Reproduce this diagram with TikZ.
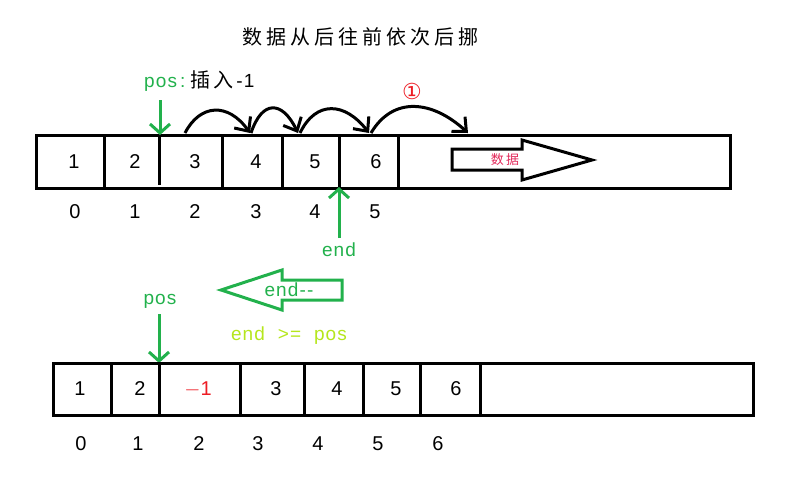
\documentclass[tikz,border=0pt]{standalone}
\usepackage{fontspec}
\setmainfont{Liberation Sans}
\newfontfamily\spaced[LetterSpace=6]{Liberation Sans}
\newfontfamily\cjk{Noto Sans CJK SC}
\newfontfamily\cjkwide[LetterSpace=20]{Noto Sans CJK SC}
\newfontfamily\dejavu{DejaVu Sans}
\usetikzlibrary{arrows.meta}
\definecolor{pgreen}{RGB}{34,177,76}
\definecolor{plime}{RGB}{181,230,29}
\definecolor{pred}{RGB}{237,28,36}
\definecolor{ppink}{RGB}{226,40,90}
\tikzset{
  box/.style={line width=3pt, draw=black},
  num/.style={font=\fontsize{20}{20}\selectfont, inner sep=0pt},
  idx/.style={font=\fontsize{20}{20}\selectfont, inner sep=0pt},
  garrow/.style={draw=pgreen, line width=3pt, -{Straight Barb[length=9pt,width=20pt]}},
  barc/.style={draw=black, line width=3pt, -{Straight Barb[length=11pt,width=20pt]}},
  gtext/.style={text=pgreen, font=\spaced\fontsize{19}{19}\selectfont, inner sep=0pt},
}
\begin{document}
\begin{tikzpicture}[x=1pt,y=-1pt]
\useasboundingbox (0,0) rectangle (789,485);

% title
\node[inner sep=0pt, font=\cjkwide\fontsize{20}{20}\selectfont] (title) at (360,37) {数据从后往前依次后挪};

% ---------- top array ----------
\draw[box] (36,135) rectangle (730,188);
\draw[box] (104,135) -- (104,188);
\draw[box] (159,135) -- (159,185);
\draw[box] (222,135) -- (222,188);
\draw[box] (282,135) -- (282,188);
\draw[box] (339,135) -- (339,188);
\draw[box] (398,135) -- (398,188);

\node[num] (t1) at (74,162) {1};
\node[num] (t2) at (135,162) {2};
\node[num] (t3) at (195,162) {3};
\node[num] (t4) at (256,162) {4};
\node[num] (t5) at (315,162) {5};
\node[num] (t6) at (376,162) {6};

\node[idx] (ti0) at (75,212) {0};
\node[idx] (ti1) at (135,212) {1};
\node[idx] (ti2) at (195,212) {2};
\node[idx] (ti3) at (256,212) {3};
\node[idx] (ti4) at (315,212) {4};
\node[idx] (ti5) at (375,212) {5};

% hollow arrow with 数据
\draw[box] (452,149) -- (522,149) -- (522,140) -- (592,160) -- (522,180) -- (522,170) -- (452,170) -- cycle;
\node[inner sep=0pt, text=ppink, font=\cjk\fontsize{13}{13}\selectfont] (data) at (505,160) {数\,据};

% pos label & arrow
\node[inner sep=0pt, anchor=west, font=\spaced\fontsize{19}{19}\selectfont] (poslbl) at (144,81) {\textcolor{pgreen}{pos\hspace{3pt}:}\hspace{5pt}{\cjk\fontsize{20}{20}\selectfont 插\hspace{3pt}入}\hspace{3pt}-1};
\coordinate (posTop) at (160,100);
\coordinate (posBot) at (160,135);
\draw[garrow] (posTop) -- (posBot);

% arcs
\coordinate (a0) at (185,133);
\coordinate (a1) at (250,133);
\coordinate (a1b) at (251,133);
\coordinate (a2) at (298,133);
\coordinate (a2b) at (300,133);
\coordinate (a3) at (369,133);
\coordinate (a3b) at (371,133);
\coordinate (a4) at (468,133);
\draw[barc] (a0) .. controls (200,104) and (228,102) .. (a1);
\draw[barc] (a1b) .. controls (262,100) and (282,100) .. (a2);
\draw[barc] (a2b) .. controls (316,100) and (345,102) .. (a3);
\draw[barc] (a3b) .. controls (393,96) and (432,100) .. (a4);
\node[inner sep=0pt, text=pred, font=\dejavu\fontsize{22}{22}\selectfont] (circ) at (412,91) {①};

% end arrow
\node[gtext] (endlbl) at (339,250) {end};
\coordinate (endBot) at (339,238);
\coordinate (endTop) at (339,187);
\draw[garrow] (endBot) -- (endTop);

% ---------- middle ----------
\draw[draw=pgreen, line width=3pt] (221,290) -- (282,270) -- (282,280) -- (342,280) -- (342,300) -- (282,300) -- (282,310) -- cycle;
\node[gtext] (endmm) at (289,290) {end-{}-};
\node[inner sep=0pt, text=plime, font=\spaced\fontsize{19}{19}\selectfont] (cond) at (289,336) {end \ >= \ pos};
\node[gtext] (pos2) at (160,301) {pos};
\coordinate (p2top) at (159,314);
\coordinate (p2bot) at (159,363);
\draw[garrow] (p2top) -- (p2bot);

% ---------- bottom array ----------
\draw[box] (53,363) rectangle (753,415);
\draw[box] (111,363) -- (111,415);
\draw[box] (159,363) -- (159,415);
\draw[box] (240,363) -- (240,415);
\draw[box] (304,363) -- (304,415);
\draw[box] (363,363) -- (363,415);
\draw[box] (420,363) -- (420,415);
\draw[box] (480,363) -- (480,415);

\node[num] (b1) at (80,389) {1};
\node[num] (b2) at (140,389) {2};
\node[num, text=pred] (b3) at (198,389) {$-$1};
\node[num] (b4) at (276,389) {3};
\node[num] (b5) at (337,389) {4};
\node[num] (b6) at (396,389) {5};
\node[num] (b7) at (456,389) {6};

\node[idx] (bi0) at (81,444) {0};
\node[idx] (bi1) at (138,444) {1};
\node[idx] (bi2) at (199,444) {2};
\node[idx] (bi3) at (258,444) {3};
\node[idx] (bi4) at (318,444) {4};
\node[idx] (bi5) at (378,444) {5};
\node[idx] (bi6) at (438,444) {6};
\end{tikzpicture}
\end{document}
